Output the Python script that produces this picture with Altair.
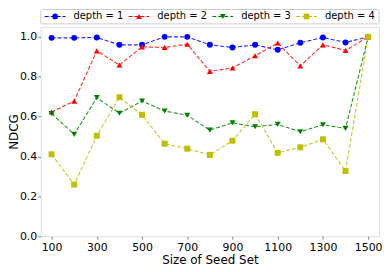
import altair as alt
import pandas as pd

sizes = [100, 200, 300, 400, 500, 600, 700, 800, 900, 1000, 1100, 1200, 1300, 1400, 1500]
depth1 = [0.995, 0.995, 0.997, 0.960, 0.960, 1.000, 1.000, 0.960, 0.947, 0.960, 0.935, 0.970, 0.997, 0.972, 1.000]
depth2 = [0.623, 0.678, 0.930, 0.859, 0.950, 0.947, 0.963, 0.827, 0.844, 0.905, 0.969, 0.854, 0.960, 0.932, 1.000]
depth3 = [0.615, 0.511, 0.695, 0.617, 0.678, 0.628, 0.607, 0.532, 0.569, 0.549, 0.561, 0.524, 0.559, 0.541, 1.000]
depth4 = [0.411, 0.259, 0.504, 0.697, 0.609, 0.464, 0.439, 0.408, 0.479, 0.612, 0.418, 0.446, 0.486, 0.327, 1.000]

series_names = ["depth = 1", "depth = 2", "depth = 3", "depth = 4"]
series_values = [depth1, depth2, depth3, depth4]
colors = ["#0000ff", "#ff0000", "#008000", "#bfbf00"]
shapes = ["circle", "triangle-up", "triangle-down", "square"]
x_ticks = [100, 300, 500, 700, 900, 1100, 1300, 1500]
y_ticks = [0.0, 0.2, 0.4, 0.6, 0.8, 1.0]

W, H = 341, 211

rows = []
for name, vals in zip(series_names, series_values):
    for s, v in zip(sizes, vals):
        rows.append({"size": s, "ndcg": v, "series": name})
df = pd.DataFrame(rows)

color_scale = alt.Scale(domain=series_names, range=colors)
shape_scale = alt.Scale(domain=series_names, range=shapes)

x_enc = alt.X("size:Q", scale=alt.Scale(domain=[52, 1548], nice=False, zero=False),
              axis=alt.Axis(values=x_ticks, format="d", title="Size of Seed Set", grid=False,
                            domain=False, tickSize=3, tickColor="#888", labelFontSize=11,
                            titleFontSize=12, labelColor="black", titleColor="black",
                            labelPadding=2, titlePadding=3, titleFontWeight="normal",
                            labelFont="DejaVu Sans", titleFont="DejaVu Sans"))
y_enc = alt.Y("ndcg:Q", scale=alt.Scale(domain=[0, 1.05], nice=False, zero=False),
              axis=alt.Axis(values=y_ticks, format=".1f", title="NDCG", grid=False, domain=False,
                            tickSize=3, tickColor="#888", labelFontSize=11, titleFontSize=12,
                            labelColor="black", titleColor="black", labelPadding=1,
                            titleX=-27, titleY=H / 2, titleAngle=270, titleAlign="center",
                            titleBaseline="middle", titleFontWeight="normal",
                            labelFont="DejaVu Sans", titleFont="DejaVu Sans"))

layers = []
for name in series_names:
    sub = alt.Chart(df).transform_filter(alt.datum.series == name)
    layers.append(sub.mark_line(strokeDash=[4, 2], strokeWidth=1.1, opacity=0.85).encode(
        x=x_enc, y=y_enc, color=alt.Color("series:N", scale=color_scale, legend=None)))
    layers.append(sub.mark_point(filled=True, size=36, opacity=1).encode(
        x=x_enc, y=y_enc,
        color=alt.Color("series:N", scale=color_scale, legend=None),
        shape=alt.Shape("series:N", scale=shape_scale, legend=None)))

# manual legend (positions computed from entry index)
leg_df = pd.DataFrame({"series": series_names, "idx": list(range(len(series_names)))})
leg = alt.Chart(leg_df).transform_calculate(
    lx1="4 + 84.5*datum.idx", lx2="25 + 84.5*datum.idx",
    lxc="14.5 + 84.5*datum.idx", ltx="33 + 84.5*datum.idx")

box = alt.Chart(pd.DataFrame({"a": [0]})).mark_rect(
    fill="white", stroke="#cccccc", strokeWidth=1, cornerRadius=2).encode(
    x=alt.value(0), x2=alt.value(W), y=alt.value(-17.5), y2=alt.value(-3))
leg_line = leg.mark_rule(strokeDash=[4, 2], strokeWidth=1.1).encode(
    x=alt.X("lx1:Q", scale=None), x2="lx2:Q", y=alt.value(-10.5),
    color=alt.Color("series:N", scale=color_scale, legend=None))
leg_pt = leg.mark_point(filled=True, size=34, opacity=1).encode(
    x=alt.X("lxc:Q", scale=None), y=alt.value(-10.5),
    color=alt.Color("series:N", scale=color_scale, legend=None),
    shape=alt.Shape("series:N", scale=shape_scale, legend=None))
leg_txt = leg.mark_text(align="left", baseline="middle", fontSize=10, font="DejaVu Sans",
                        color="black").encode(
    x=alt.X("ltx:Q", scale=None), y=alt.value(-10.5), text="series:N")

chart = alt.layer(*layers, box, leg_line, leg_pt, leg_txt).properties(
    width=W, height=H,
    autosize=alt.AutoSizeParams(type="none"),
    padding={"left": 33, "top": 18, "right": 3, "bottom": 31},
).configure_view(stroke="#888", strokeWidth=1).configure(background="white")

chart.save("out.html", embed_options={"renderer": "svg", "actions": False})
